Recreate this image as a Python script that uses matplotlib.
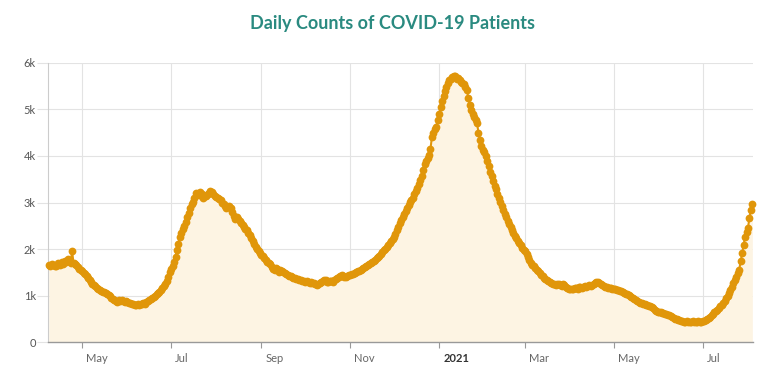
import numpy as np
import pandas as pd
import matplotlib
matplotlib.use("Agg")
import matplotlib.pyplot as plt
import matplotlib.transforms as mtransforms

# daily patient counts
apr_2020 = [1660, 1640, 1680, 1650, 1630, 1640, 1700, 1680, 1660, 1720, 1690, 1750,
            1720, 1780, 1740, 1710, 1950, 1700, 1680, 1650, 1620, 1580, 1550]
may_2020 = [1520, 1490, 1460, 1420, 1380, 1340, 1300, 1260, 1230, 1200, 1170, 1140,
            1120, 1100, 1090, 1070, 1060, 1040, 1010, 990, 960, 930, 900, 880, 870,
            900, 890, 910, 880, 870, 880]
jun_2020 = [860, 850, 840, 830, 820, 810, 800, 820, 810, 830, 820, 840, 830, 860, 880,
            900, 920, 950, 980, 1000, 1030, 1060, 1090, 1120, 1160, 1200, 1250, 1320,
            1410, 1500]
jul_2020 = [1580, 1640, 1720, 1840, 1980, 2120, 2270, 2350, 2430, 2500, 2590, 2680,
            2780, 2880, 2960, 3020, 3100, 3200, 3180, 3160, 3220, 3180, 3100, 3130,
            3150, 3190, 3210, 3240, 3220, 3180, 3150]
aug_2020 = [3120, 3100, 3080, 3050, 3000, 2960, 2920, 2880, 2900, 2920, 2880, 2800,
            2720, 2640, 2680, 2650, 2600, 2560, 2520, 2480, 2440, 2400, 2350, 2300,
            2240, 2170, 2100, 2050, 2000, 1950, 1910]
sep_2020 = [1880, 1850, 1810, 1770, 1730, 1700, 1670, 1620, 1580, 1550, 1600, 1580,
            1500, 1560, 1530, 1500, 1480, 1460, 1450, 1430, 1420, 1400, 1390, 1370,
            1350, 1360, 1340, 1330, 1320, 1310]
oct_2020 = [1300, 1310, 1290, 1280, 1300, 1280, 1270, 1250, 1230, 1260, 1270, 1300,
            1310, 1330, 1340, 1300, 1290, 1310, 1320, 1300, 1330, 1350, 1370, 1400,
            1430, 1450, 1420, 1400, 1410, 1430, 1440]
nov_2020 = [1450, 1460, 1470, 1490, 1500, 1520, 1540, 1560, 1580, 1600, 1620, 1640,
            1660, 1680, 1700, 1720, 1740, 1770, 1800, 1830, 1860, 1890, 1930, 1970,
            2010, 2050, 2090, 2130, 2170, 2220]
dec_2020 = [2270, 2330, 2400, 2480, 2560, 2620, 2680, 2750, 2820, 2880, 2950, 3010,
            3050, 3100, 3180, 3240, 3320, 3400, 3480, 3560, 3700, 3820, 3900, 3950,
            4020, 4140, 4400, 4500, 4580, 4620, 4780]
jan_2021 = [4900, 5050, 5170, 5280, 5390, 5480, 5570, 5620, 5660, 5700, 5720, 5710,
            5650, 5680, 5620, 5590, 5560, 5540, 5480, 5420, 5250, 5100, 4980, 4900,
            4830, 4760, 4700, 4500, 4350, 4220, 4120]
feb_2021 = [4080, 3990, 3900, 3780, 3660, 3560, 3460, 3360, 3280, 3190, 3100, 3010,
            2920, 2840, 2760, 2680, 2610, 2540, 2470, 2400, 2340, 2280, 2230, 2180,
            2130, 2080, 2030, 1990]
mar_2021 = [1950, 1890, 1820, 1760, 1700, 1660, 1630, 1590, 1560, 1520, 1490, 1450,
            1420, 1390, 1360, 1340, 1310, 1290, 1270, 1260, 1250, 1240, 1250, 1260,
            1230, 1210, 1250, 1220, 1180, 1160, 1150]
apr_2021 = [1150, 1140, 1140, 1160, 1170, 1150, 1180, 1180, 1170, 1190, 1200, 1180,
            1200, 1220, 1210, 1230, 1250, 1280, 1300, 1290, 1270, 1250, 1220, 1200,
            1190, 1180, 1170, 1170, 1160, 1150]
may_2021 = [1150, 1140, 1130, 1120, 1110, 1100, 1080, 1060, 1040, 1030, 1010, 990, 970,
            950, 930, 910, 890, 870, 850, 840, 830, 820, 810, 800, 780, 770, 760, 730,
            700, 680, 660]
jun_2021 = [650, 640, 630, 620, 610, 600, 590, 580, 570, 550, 530, 510, 500, 480, 470,
            460, 450, 440, 440, 450, 440, 430, 440, 450, 440, 430, 440, 450, 440, 440]
jul_2021 = [450, 460, 480, 500, 520, 550, 580, 610, 640, 670, 700, 740, 770, 810, 850,
            890, 940, 990, 1050, 1120, 1190, 1270, 1340, 1410, 1480, 1560, 1740, 1910,
            2080, 2270, 2360]
aug_2021 = [2450, 2670, 2840, 2970]

counts = np.array(apr_2020 + may_2020 + jun_2020 + jul_2020 + aug_2020 + sep_2020 +
                  oct_2020 + nov_2020 + dec_2020 + jan_2021 + feb_2021 + mar_2021 +
                  apr_2021 + may_2021 + jun_2021 + jul_2021 + aug_2021)
dates = pd.date_range("2020-04-08", periods=len(counts), freq="D")

tick_dates = pd.to_datetime(["2020-05-01", "2020-07-01", "2020-09-01", "2020-11-01",
                             "2021-01-01", "2021-03-01", "2021-05-01", "2021-07-01"])
tick_labels = ["May", "Jul", "Sep", "Nov", "2021", "Mar", "May", "Jul"]
y_ticks = [0, 1000, 2000, 3000, 4000, 5000, 6000]
y_labels = ["0", "1k", "2k", "3k", "4k", "5k", "6k"]

dot_color = "#e0960a"
fill_color = "#fdf4e3"
grid_color = "#e3e3e3"

plt.rcParams["font.family"] = ["Lato", "DejaVu Sans"]

fig = plt.figure(figsize=(7.84, 3.71), dpi=100)
ax = fig.add_axes([48.3 / 784, 1 - 342.3 / 371, 705 / 784, (342.3 - 62.7) / 371])

ax.fill_between(dates, counts, 0, color=fill_color, zorder=1, linewidth=0)
ax.plot(dates, counts, color=dot_color, linewidth=1.5, marker="o", markersize=5.6,
        markeredgewidth=0, zorder=3, clip_on=False)

ax.set_ylim(0, 6000)
ax.set_xlim(dates[0] - pd.Timedelta(hours=8), dates[-1] + pd.Timedelta(hours=16))

ax.set_yticks(y_ticks)
ax.set_yticklabels(y_labels)
ax.set_xticks(tick_dates)
ax.set_xticklabels(tick_labels)

ax.grid(True, color=grid_color, linewidth=0.8, zorder=0)
ax.set_axisbelow(True)

for side in ["top", "right"]:
    ax.spines[side].set_visible(False)
ax.spines["left"].set_color("#cccccc")
ax.spines["left"].set_linewidth(0.8)
ax.spines["bottom"].set_color("#999999")
ax.spines["bottom"].set_linewidth(1.0)

ax.tick_params(axis="y", length=8, width=0.8, color=grid_color, pad=1,
               labelsize=8, labelcolor="#555555")
ax.tick_params(axis="x", length=4, width=0.8, color="#999999", pad=4,
               labelsize=8, labelcolor="#666666")

offset = mtransforms.ScaledTranslation(3 / 72, 0, fig.dpi_scale_trans)
for lbl in ax.get_xticklabels():
    lbl.set_horizontalalignment("left")
    lbl.set_transform(lbl.get_transform() + offset)
    if lbl.get_text() == "2021":
        lbl.set_fontweight("bold")
        lbl.set_color("#333333")

fig.text(0.5, 1 - 23.5 / 371, "Daily Counts of COVID-19 Patients", ha="center",
         va="center", fontsize=13, fontweight="bold", color="#2a8a80")

fig.savefig("out.png", dpi=100)
